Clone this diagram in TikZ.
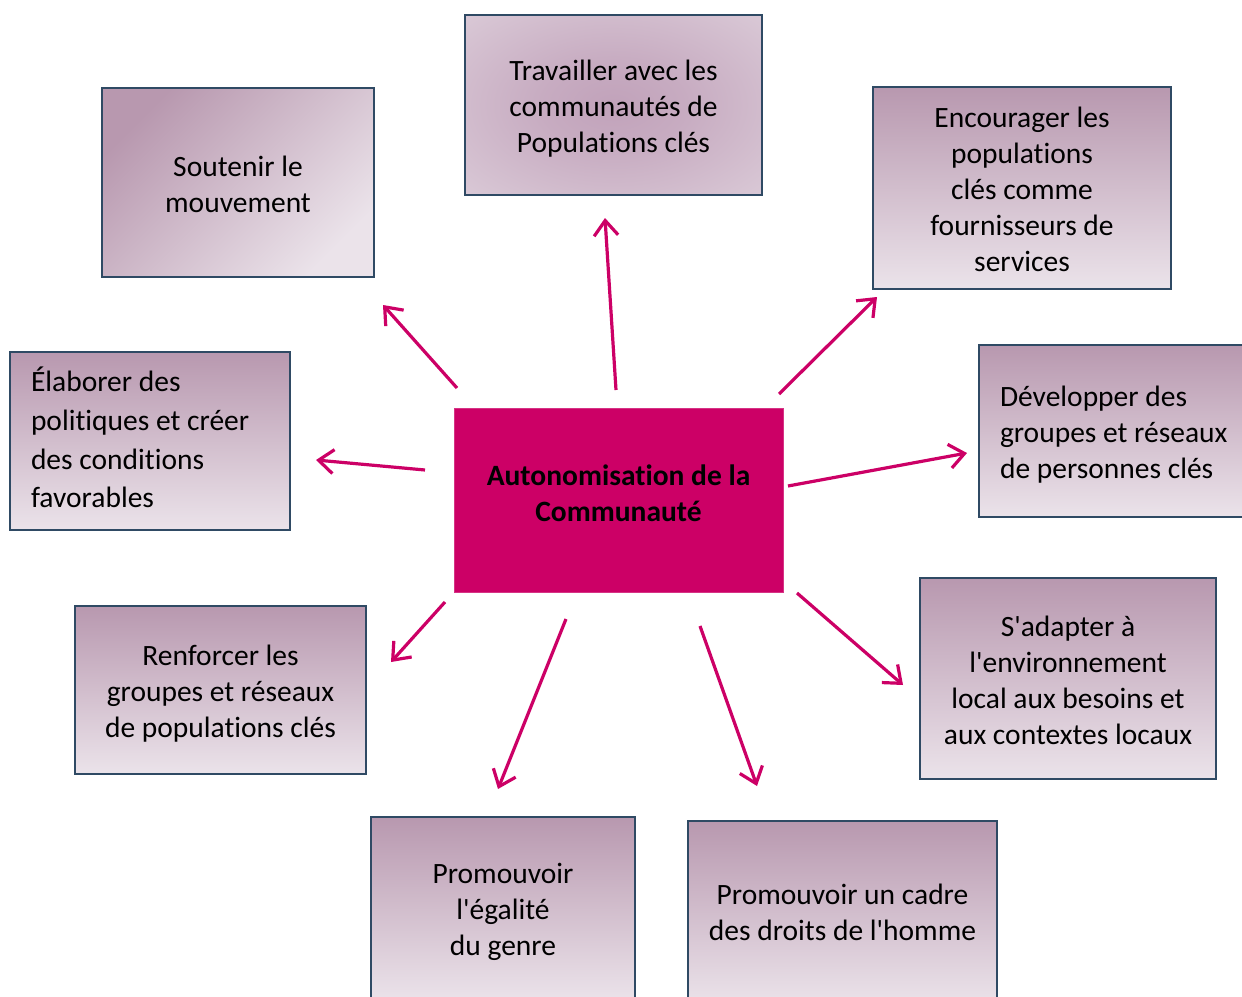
\documentclass[tikz,border=0pt]{standalone}
\usepackage{fontspec}
\setmainfont{Carlito}[Ligatures={TeXOff,NoCommon}]
\usetikzlibrary{arrows.meta}
\definecolor{mag}{HTML}{CC0066}
\definecolor{frame}{HTML}{2F4A64}
\definecolor{boxtop}{HTML}{B898AF}
\definecolor{boxbot}{HTML}{EBE3EA}
\definecolor{radin}{HTML}{C1A2BA}
\definecolor{radout}{HTML}{E9E1E8}
\pgfdeclareradialshading{softrad}{\pgfpoint{0bp}{0bp}}{color(0bp)=(radin); color(12bp)=(radin!85!radout); color(55bp)=(radout); color(80bp)=(radout)}
% centred lines, moved down by #1
\newcommand\mlc[2]{\raisebox{-#1}[\height][\depth]{\begin{tabular}{@{}c@{}}#2\end{tabular}}}
% flush-left lines in a column of width #2, moved down by #1
\newcommand\mll[3]{\makebox[#2][l]{\raisebox{-#1}[\height][\depth]{\begin{tabular}{@{}l@{}}#3\end{tabular}}}}
\tikzset{
  base/.style={draw=frame, line width=2.6pt, inner sep=0pt,
    font=\fontsize{29.5}{36}\selectfont},
  gbox/.style={base, top color=boxtop, bottom color=boxbot},
  dbox/.style={gbox, shading angle=45},
  rbox/.style={base, shading=softrad},
  hub/.style={fill=mag, draw=mag!80!white, line width=0.8pt, align=center,
    font=\fontsize{29.5}{36}\selectfont\bfseries},
  conn/.style={draw=mag, line width=3.2pt, -{Straight Barb[length=15pt,width=24pt,line width=3.2pt]}}
}
\begin{document}
\begin{tikzpicture}[x=1pt,y=-1pt]
\useasboundingbox (0,0) rectangle (1242,996);
\clip (0,0) rectangle (1242,996);
\fill[white] (0,0) rectangle (1242,996);

\node[rbox, minimum width=297pt, minimum height=180pt] (trav) at (613.5,105)
  {\mlc{4pt}{Travailler avec les\\communautés de\\Populations clés}};
\node[dbox, minimum width=272pt, minimum height=189pt] (sout) at (238,182.5)
  {\mlc{4.5pt}{Soutenir le\\mouvement}};
\node[gbox, minimum width=298pt, minimum height=202pt] (enc) at (1022,188)
  {\mlc{4pt}{Encourager les\\populations\\clés comme\\fournisseurs de\\services}};
\node[gbox, minimum width=280pt, minimum height=178pt, font=\fontsize{29.5}{38.7}\selectfont] (elab) at (150,441)
  {\mll{1pt}{238pt}{Élaborer des\\politiques et créer\\des conditions\\favorables}};
\node[gbox, minimum width=283pt, minimum height=172pt] (dev) at (1120.5,431)
  {\mll{4pt}{241pt}{Développer des\\groupes et réseaux\\de personnes clés}};
\node[hub, minimum width=329pt, minimum height=184pt] (hub) at (618.5,500)
  {Autonomisation de la\\Communauté\\[-22pt]\mbox{}};
\node[gbox, minimum width=291pt, minimum height=168pt] (renf) at (220.5,690)
  {\mlc{4.5pt}{Renforcer les\\groupes et réseaux\\de populations clés}};
\node[gbox, minimum width=296pt, minimum height=201pt] (adapt) at (1068,678.5)
  {\mlc{5pt}{S'adapter à\\l'environnement\\local aux besoins et\\aux contextes locaux}};
\node[gbox, minimum width=264pt, minimum height=183pt] (egal) at (503,908.5)
  {\mlc{4pt}{Promouvoir\\l'égalité\\du genre}};
\node[gbox, minimum width=309pt, minimum height=183pt] (cadre) at (842.5,912.5)
  {\mlc{3pt}{Promouvoir un cadre\\des droits de l'homme}};

\coordinate (s1) at (616,390);  \coordinate (e1) at (605,218);
\coordinate (s2) at (457,388);  \coordinate (e2) at (383,305);
\coordinate (s3) at (779,394);  \coordinate (e3) at (877,297);
\coordinate (s4) at (425,470);  \coordinate (e4) at (316,460);
\coordinate (s5) at (788,486);  \coordinate (e5) at (967,453);
\coordinate (s6) at (445,602);  \coordinate (e6) at (391,662);
\coordinate (s7) at (566,619);  \coordinate (e7) at (498,789);
\coordinate (s8) at (700,626);  \coordinate (e8) at (757,786);
\coordinate (s9) at (797,593);  \coordinate (e9) at (903,685);
\foreach \i in {1,...,9} { \draw[conn] (s\i) -- (e\i); }
\end{tikzpicture}
\end{document}
